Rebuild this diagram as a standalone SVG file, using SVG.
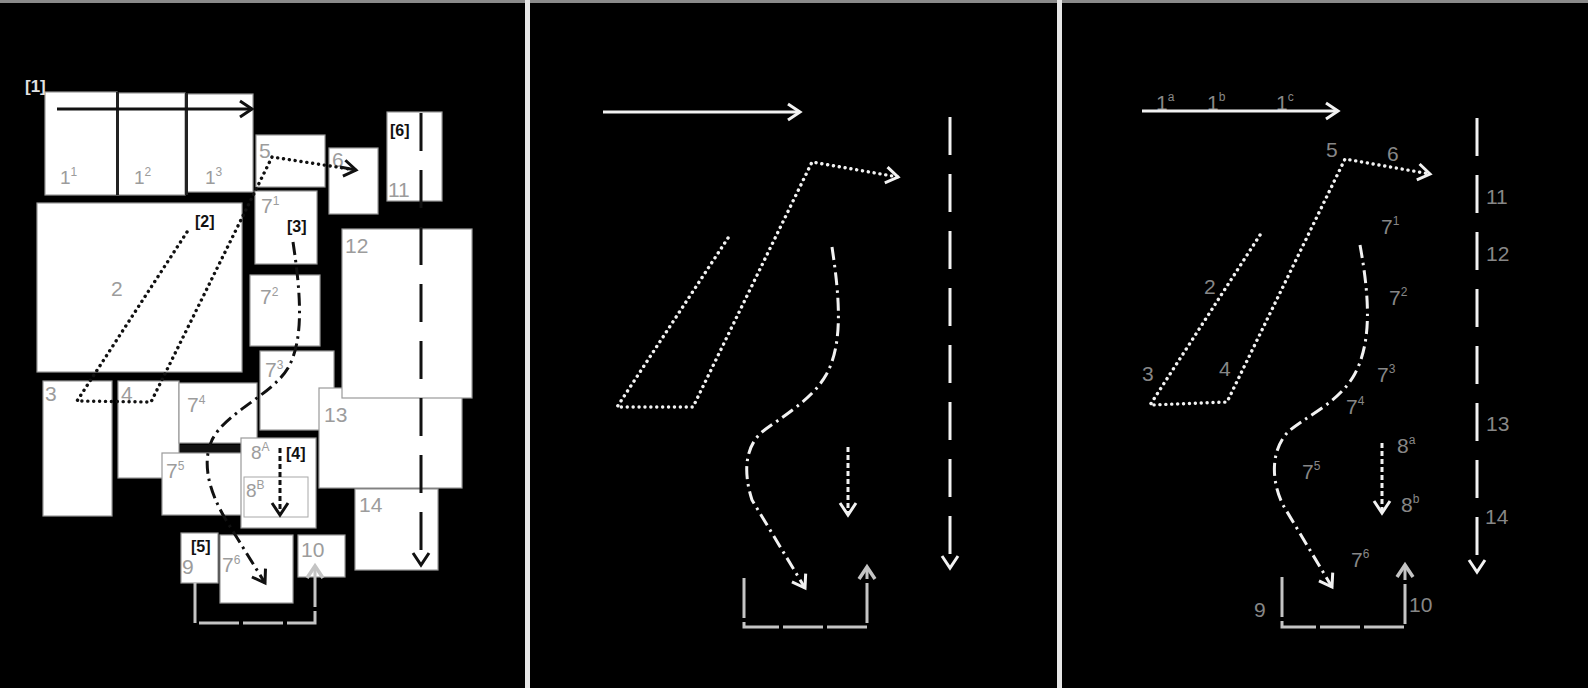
<svg xmlns="http://www.w3.org/2000/svg" width="1588" height="688" viewBox="0 0 1588 688">
<style>
text{font-family:"Liberation Sans",Arial,sans-serif}
.box{fill:#fff;stroke:#9a9a9a;stroke-width:1.2}
.lb{fill:#9c9c9c;font-size:21px}
.lbs{fill:#9c9c9c;font-size:19px}
.rl{fill:#878787;font-size:21px}
.tag{fill:#111;font-size:16px;font-weight:bold}
.sup{font-size:12px}
.ln{fill:none;stroke-width:3}
.k{stroke:#111}
.w{stroke:#f2f2f2}
.g{stroke:#c4c4c4}
.dot{stroke-dasharray:0.1 5.8;stroke-linecap:round;stroke-width:3.4}
.dd{stroke-dasharray:13 5 2.5 5}
.sd{stroke-dasharray:5 3}
.ld{stroke-dasharray:38 19}
.gd{stroke-dasharray:40 4}
</style>
<defs>
<marker id="ak" markerUnits="userSpaceOnUse" markerWidth="30" markerHeight="30" refX="0" refY="0" orient="auto" overflow="visible"><path d="M-12,-8 L0,0 L-12,8" fill="none" stroke="#111" stroke-width="3"/></marker>
<marker id="aw" markerUnits="userSpaceOnUse" markerWidth="30" markerHeight="30" refX="0" refY="0" orient="auto" overflow="visible"><path d="M-12,-8 L0,0 L-12,8" fill="none" stroke="#f2f2f2" stroke-width="3"/></marker>
<marker id="ag" markerUnits="userSpaceOnUse" markerWidth="30" markerHeight="30" refX="0" refY="0" orient="auto" overflow="visible"><path d="M-12,-8 L0,0 L-12,8" fill="none" stroke="#c4c4c4" stroke-width="3.5"/></marker>
</defs>
<rect x="0" y="0" width="1588" height="688" fill="#000"/>
<rect x="0" y="0" width="1588" height="3" fill="#8a8a8a"/>
<rect x="525" y="0" width="5" height="688" fill="#e6e6e6"/>
<rect x="1057" y="0" width="5" height="688" fill="#e6e6e6"/>

<!-- left panel nodes -->
<g id="n1-1"><rect class="box" x="45" y="92" width="72" height="103"/><text class="lbs" x="60" y="184">1<tspan class="sup" dy="-8">1</tspan></text></g>
<g id="n1-2"><rect class="box" x="118" y="93" width="67" height="102"/><text class="lbs" x="134" y="184">1<tspan class="sup" dy="-8">2</tspan></text></g>
<g id="n1-3"><rect class="box" x="187" y="94" width="66" height="98"/><text class="lbs" x="205" y="184">1<tspan class="sup" dy="-8">3</tspan></text></g>
<rect x="116" y="92" width="3" height="103" fill="#222"/>
<rect x="185" y="93" width="3" height="102" fill="#222"/>
<g id="n5"><rect class="box" x="256" y="135" width="69" height="52"/><text class="lb" x="259" y="158">5</text></g>
<g id="n6"><rect class="box" x="329" y="148" width="49" height="66"/><text class="lb" x="332" y="167">6</text></g>
<g id="n11"><rect class="box" x="387" y="112" width="55" height="89"/><text class="lb" x="388" y="197">11</text><text class="tag" x="390" y="136">[6]</text></g>
<g id="n7-1"><rect class="box" x="255" y="191" width="62" height="73"/><text class="lb" x="261" y="213">7<tspan class="sup" dy="-8">1</tspan></text><text class="tag" x="287" y="232">[3]</text></g>
<g id="n2"><rect class="box" x="37" y="203" width="205" height="169"/><text class="lb" x="111" y="296">2</text><text class="tag" x="195" y="227">[2]</text></g>
<g id="n7-2"><rect class="box" x="250" y="275" width="70" height="71"/><text class="lb" x="260" y="304">7<tspan class="sup" dy="-8">2</tspan></text></g>
<g id="n7-3"><rect class="box" x="260" y="351" width="74" height="79"/><text class="lb" x="265" y="377">7<tspan class="sup" dy="-8">3</tspan></text></g>
<g id="n13"><rect class="box" x="319" y="388" width="143" height="100"/><text class="lb" x="324" y="422">13</text></g>
<g id="n12"><rect class="box" x="342" y="229" width="130" height="169"/><text class="lb" x="345" y="253">12</text></g>
<g id="n3"><rect class="box" x="43" y="381" width="69" height="135"/><text class="lb" x="45" y="401">3</text></g>
<g id="n4"><rect class="box" x="118" y="381" width="61" height="97"/><text class="lb" x="121" y="401">4</text></g>
<g id="n7-4"><rect class="box" x="179" y="383" width="78" height="60"/><text class="lb" x="187" y="412">7<tspan class="sup" dy="-8">4</tspan></text></g>
<g id="n14"><rect class="box" x="355" y="489" width="83" height="81"/><text class="lb" x="359" y="512">14</text></g>
<rect x="180" y="445" width="63" height="7" fill="#111"/>
<g id="n7-5"><rect class="box" x="162" y="453" width="81" height="62"/><text class="lb" x="166" y="478">7<tspan class="sup" dy="-8">5</tspan></text></g>
<g id="n8A"><rect class="box" x="241" y="438" width="75" height="90"/><text class="lbs" x="251" y="459">8<tspan class="sup" dy="-8">A</tspan></text><text class="tag" x="286" y="459">[4]</text></g>
<g id="n8B"><rect x="244" y="477" width="64" height="40" fill="none" stroke="#a8a8a8" stroke-width="1"/><text class="lbs" x="246" y="497">8<tspan class="sup" dy="-8">B</tspan></text></g>
<g id="n9"><rect class="box" x="181" y="533" width="37" height="50"/><text class="lb" x="182" y="574">9</text><text class="tag" x="191" y="552">[5]</text></g>
<g id="n7-6"><rect class="box" x="220" y="535" width="73" height="68"/><text class="lb" x="222" y="572">7<tspan class="sup" dy="-8">6</tspan></text></g>
<g id="n10"><rect class="box" x="298" y="535" width="47" height="42"/><text class="lb" x="301" y="557">10</text></g>
<text x="25" y="92" fill="#e2e2e2" font-size="17" font-weight="bold" font-family="Liberation Sans, Arial, sans-serif">[1]</text>

<!-- right panel labels -->
<g id="right-labels">
<text class="rl" x="1156" y="110">1<tspan class="sup" dy="-9">a</tspan></text>
<text class="rl" x="1207" y="110">1<tspan class="sup" dy="-9">b</tspan></text>
<text class="rl" x="1276" y="110">1<tspan class="sup" dy="-9">c</tspan></text>
<text class="rl" x="1326" y="157">5</text>
<text class="rl" x="1387" y="161">6</text>
<text class="rl" x="1381" y="234">7<tspan class="sup" dy="-9">1</tspan></text>
<text class="rl" x="1204" y="294">2</text>
<text class="rl" x="1389" y="305">7<tspan class="sup" dy="-9">2</tspan></text>
<text class="rl" x="1142" y="381">3</text>
<text class="rl" x="1219" y="376">4</text>
<text class="rl" x="1377" y="382">7<tspan class="sup" dy="-9">3</tspan></text>
<text class="rl" x="1346" y="414">7<tspan class="sup" dy="-9">4</tspan></text>
<text class="rl" x="1397" y="453">8<tspan class="sup" dy="-9">a</tspan></text>
<text class="rl" x="1302" y="479">7<tspan class="sup" dy="-9">5</tspan></text>
<text class="rl" x="1401" y="512">8<tspan class="sup" dy="-9">b</tspan></text>
<text class="rl" x="1351" y="567">7<tspan class="sup" dy="-9">6</tspan></text>
<text class="rl" x="1254" y="617">9</text>
<text class="rl" x="1409" y="612">10</text>
<text class="rl" x="1486" y="204">11</text>
<text class="rl" x="1486" y="261">12</text>
<text class="rl" x="1486" y="431">13</text>
<text class="rl" x="1485" y="524">14</text>
</g>

<g id="connectors">
<!-- left -->
<path class="ln k" d="M57,109 L252,109" marker-end="url(#ak)"/>
<path class="ln k dot" d="M187,232 L77,401 L151,402 L272,157 L356,170" marker-end="url(#ak)"/>
<path class="ln k" d="M340,167 L356,170"/>
<path class="ln k ld" d="M421,113 L421,565" marker-end="url(#ak)"/>
<path class="ln k dd" d="M293,242 C301,295 304,340 288,368 C272,395 226,412 212,440 C202,462 208,490 226,520 L265,583" marker-end="url(#ak)"/>
<path class="ln k sd" d="M280,448 L280,515" marker-end="url(#ak)"/>
<path class="ln g gd" d="M195,583 L195,623 L315,623 L315,566" marker-end="url(#ag)"/>
<!-- middle -->
<path class="ln w" d="M603,112 L800,112" marker-end="url(#aw)"/>
<path class="ln w dot" d="M728,238 L617,407 L693,407 L812,162 L898,177" marker-end="url(#aw)"/>
<path class="ln w ld" d="M950,117 L950,568" marker-end="url(#aw)"/>
<path class="ln w dd" d="M832,247 C840,300 843,345 826,375 C812,400 780,418 762,432 C745,447 743,472 752,500 L805,588" marker-end="url(#aw)"/>
<path class="ln w sd" d="M848,447 L848,515" marker-end="url(#aw)"/>
<path class="ln g gd" d="M744,578 L744,627 L867,627 L867,567" marker-end="url(#ag)"/>
<!-- right -->
<path class="ln w" d="M1142,111 L1338,111" marker-end="url(#aw)"/>
<path class="ln w dot" d="M1260,235 L1150,405 L1227,402 L1345,159 L1430,174" marker-end="url(#aw)"/>
<path class="ln w ld" d="M1477,118 L1477,572" marker-end="url(#aw)"/>
<path class="ln w dd" d="M1360,245 C1370,300 1372,345 1353,377 C1336,405 1302,418 1287,433 C1272,450 1270,478 1283,505 L1332,587" marker-end="url(#aw)"/>
<path class="ln w sd" d="M1382,443 L1382,513" marker-end="url(#aw)"/>
<path class="ln g gd" d="M1282,577 L1282,627 L1405,627 L1405,565" marker-end="url(#ag)"/>
</g>
</svg>
